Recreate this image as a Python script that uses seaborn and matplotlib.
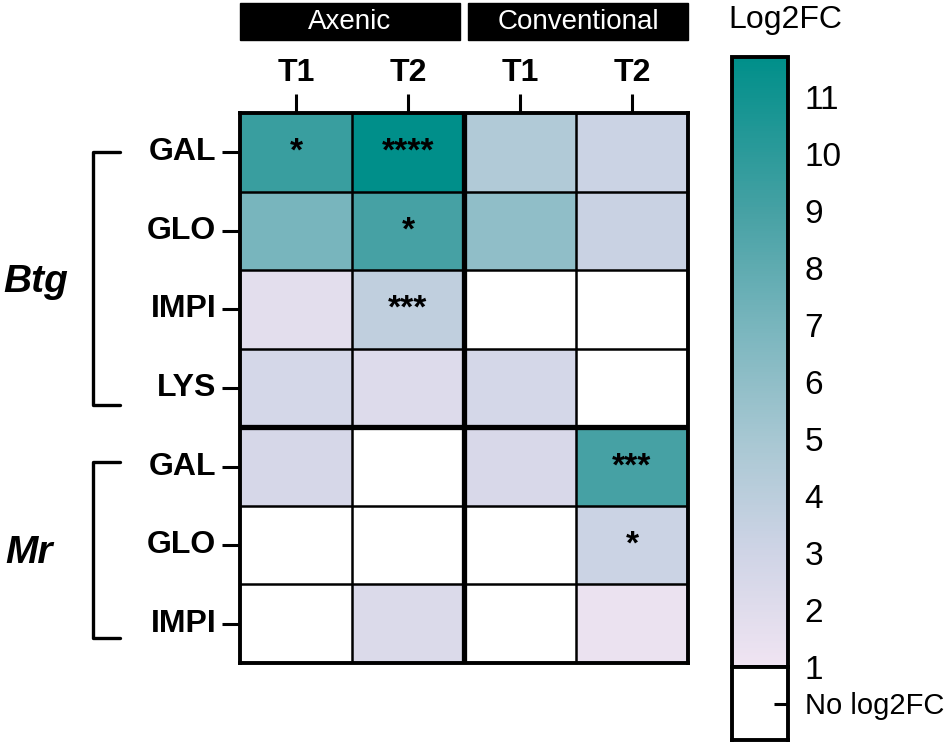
import numpy as np
import pandas as pd
import seaborn as sns
import matplotlib.pyplot as plt
from matplotlib.colors import LinearSegmentedColormap
from matplotlib.patches import Rectangle

# Rows / columns
genes = ["GAL", "GLO", "IMPI", "LYS", "GAL", "GLO", "IMPI"]
species = ["Btg", "Mr"]
conditions = ["Axenic", "Conventional"]
timepoints = ["T1", "T2", "T1", "T2"]

# log2FC values (NaN = no log2FC)
axenic_t1 = [9.5, 7.0, 1.8, 2.7, 2.6, np.nan, np.nan]
axenic_t2 = [11.7, 9.0, 3.8, 2.2, np.nan, np.nan, 2.3]
conv_t1 = [4.5, 6.0, np.nan, 2.7, 2.5, np.nan, np.nan]
conv_t2 = [3.2, 3.3, np.nan, np.nan, 9.0, 3.2, 1.3]

# significance
sig_axenic_t1 = ["*", "", "", "", "", "", ""]
sig_axenic_t2 = ["****", "*", "***", "", "", "", ""]
sig_conv_t1 = ["", "", "", "", "", "", ""]
sig_conv_t2 = ["", "", "", "", "***", "*", ""]

cbar_ticks = list(range(1, 12))

sns.set_style("white")
plt.rcParams['font.family'] = ['Liberation Sans', 'DejaVu Sans']
plt.rcParams['text.color'] = "black"
plt.rcParams['xtick.color'] = "black"
plt.rcParams['ytick.color'] = "black"

df = pd.DataFrame(
    np.array([axenic_t1, axenic_t2, conv_t1, conv_t2]).T,
    index=range(len(genes)),
    columns=range(4)
)
stars = np.array([sig_axenic_t1, sig_axenic_t2, sig_conv_t1, sig_conv_t2]).T

vmin, vmax = 1, 11.7
nodes = [(1, "#f0e4f2"), (3, "#cfd4e6"), (5, "#a7c7d2"),
         (7, "#78b5bd"), (9, "#46a1a4"), (11.7, "#008f8a")]
cmap = LinearSegmentedColormap.from_list(
    "log2fc", [((v - vmin) / (vmax - vmin), c) for v, c in nodes]
)

fig = plt.figure(figsize=(9.52, 7.45), dpi=100)
ax = fig.add_axes([240 / 952, 1 - 663 / 745, 448 / 952, 550 / 745])
cax = fig.add_axes([732 / 952, 1 - 667 / 745, 56 / 952, 610 / 745])
nax = fig.add_axes([732 / 952, 1 - 740 / 745, 56 / 952, 73 / 745])

sns.heatmap(
    df, ax=ax, cmap=cmap, vmin=vmin, vmax=vmax,
    cbar_ax=cax, annot=stars, fmt="",
    annot_kws={"size": 24, "weight": "bold", "color": "black"},
    linewidths=0
)

# grid lines
ax.hlines([1, 2, 3, 5, 6], 0, 4, color="black", lw=1.8)
ax.vlines([1, 3], 0, 7, color="black", lw=1.8)
ax.hlines([4], 0, 4, color="black", lw=3.8)
ax.vlines([2], 0, 7, color="black", lw=3.8)
for s in ax.spines.values():
    s.set_visible(True)
    s.set_linewidth(2.8)
    s.set_edgecolor("black")

# ticks
ax.xaxis.tick_top()
ax.set_xticks(np.arange(4) + 0.5)
ax.set_xticklabels(timepoints, fontsize=23, fontweight="bold")
ax.set_yticks(np.arange(len(genes)) + 0.5)
ax.set_yticklabels(genes, fontsize=23, fontweight="bold", rotation=0)
ax.tick_params(axis="x", top=True, bottom=False, length=14, width=2.2, pad=4)
ax.tick_params(axis="y", left=True, length=13, width=2.2, pad=4)
ax.set_xlabel("")
ax.set_ylabel("")

# condition headers
head_x = [(0.0, 1.96), (2.04, 4.0)]
for (x0, x1), name in zip(head_x, conditions):
    ax.add_patch(Rectangle((x0, -1.40), x1 - x0, 0.47, color="black", clip_on=False))
    ax.text((x0 + x1) / 2, -1.16, name, color="white", fontsize=20,
            ha="center", va="center")

# species brackets
brackets = [(0.5, 3.72), (4.44, 6.68)]
label_pos = [(-1.82, 2.15), (-1.88, 5.6)]
for (y0, y1), (lx, ly), name in zip(brackets, label_pos, species):
    ax.plot([-1.07, -1.31, -1.31, -1.07], [y0, y0, y1, y1],
            color="black", lw=2.4, clip_on=False)
    ax.text(lx, ly, name, fontsize=28, fontweight="bold", style="italic",
            ha="center", va="center")

# colorbar
cbar = ax.collections[0].colorbar
cbar.set_ticks(cbar_ticks)
cbar.set_ticklabels([str(t) for t in cbar_ticks])
cbar.outline.set_linewidth(2.8)
cbar.outline.set_edgecolor("black")
cax.tick_params(direction="in", left=True, right=True, length=10, width=2.2,
                labelsize=24, pad=12)
fig.text(785 / 952, 1 - 20 / 745, "Log2FC", fontsize=23, ha="center", va="center")

# "No log2FC" box
nax.set_xlim(0, 1)
nax.set_ylim(0, 1)
nax.set_xticks([])
nax.set_yticks([0.5])
nax.set_yticklabels(["No log2FC"])
nax.yaxis.tick_right()
nax.tick_params(axis="y", direction="in", left=False, right=True, length=10,
                width=2.2, labelsize=21, pad=12)
for s in nax.spines.values():
    s.set_visible(True)
    s.set_linewidth(2.8)
    s.set_edgecolor("black")

plt.savefig("out.png", dpi=100)
